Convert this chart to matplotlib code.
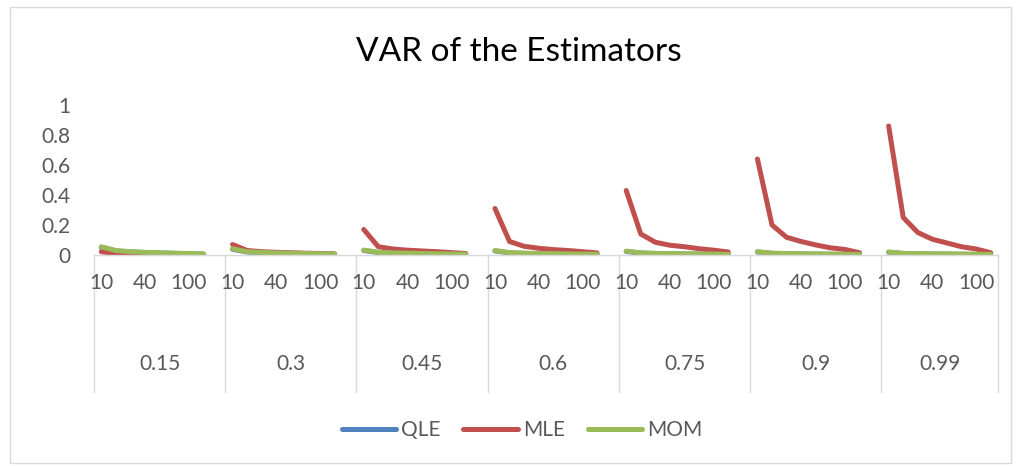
import matplotlib
matplotlib.use("Agg")
import matplotlib.pyplot as plt
import numpy as np
from matplotlib.patches import Rectangle

plt.rcParams['font.family'] = ['Lato', 'DejaVu Sans']

groups = ['0.15', '0.3', '0.45', '0.6', '0.75', '0.9', '0.99']
sample_sizes = ['10', '20', '30', '40', '50', '75', '100', '150']

qle = [
    [0.050, 0.027, 0.020, 0.016, 0.013, 0.011, 0.009, 0.006],
    [0.038, 0.020, 0.015, 0.013, 0.011, 0.009, 0.007, 0.005],
    [0.030, 0.016, 0.013, 0.011, 0.009, 0.007, 0.006, 0.004],
    [0.027, 0.014, 0.011, 0.009, 0.008, 0.006, 0.005, 0.004],
    [0.023, 0.013, 0.010, 0.008, 0.007, 0.006, 0.005, 0.003],
    [0.020, 0.011, 0.009, 0.007, 0.006, 0.005, 0.004, 0.003],
    [0.018, 0.010, 0.008, 0.007, 0.006, 0.005, 0.004, 0.003],
]
mle = [
    [0.022, 0.010, 0.008, 0.007, 0.006, 0.005, 0.004, 0.003],
    [0.070, 0.030, 0.022, 0.018, 0.015, 0.012, 0.010, 0.007],
    [0.170, 0.055, 0.040, 0.032, 0.027, 0.022, 0.016, 0.010],
    [0.310, 0.090, 0.058, 0.045, 0.036, 0.030, 0.022, 0.014],
    [0.430, 0.140, 0.085, 0.065, 0.055, 0.042, 0.032, 0.020],
    [0.640, 0.200, 0.118, 0.090, 0.067, 0.048, 0.037, 0.015],
    [0.860, 0.250, 0.150, 0.105, 0.080, 0.055, 0.040, 0.015],
]
mom = [
    [0.055, 0.030, 0.022, 0.018, 0.015, 0.012, 0.010, 0.007],
    [0.042, 0.022, 0.017, 0.014, 0.012, 0.010, 0.008, 0.006],
    [0.033, 0.018, 0.014, 0.012, 0.010, 0.008, 0.007, 0.005],
    [0.030, 0.016, 0.012, 0.010, 0.009, 0.007, 0.006, 0.005],
    [0.026, 0.014, 0.011, 0.009, 0.008, 0.007, 0.006, 0.004],
    [0.022, 0.012, 0.010, 0.008, 0.007, 0.006, 0.005, 0.004],
    [0.020, 0.011, 0.009, 0.008, 0.007, 0.006, 0.005, 0.004],
]

series = [('QLE', qle, '#4F81BD'), ('MLE', mle, '#C0504D'), ('MOM', mom, '#9BBB59')]

W, H = 1019, 466
fig = plt.figure(figsize=(W / 100, H / 100), dpi=100)
fig.patch.set_facecolor('white')

# chart border
fig.add_artist(Rectangle((10 / W, 1 - 463 / H), (1011 - 10) / W, (463 - 7) / H,
                         transform=fig.transFigure, fill=False, edgecolor='#D9D9D9', lw=1.0))

x0, x1, y0, y1 = 94, 998, 255, 105
ax = fig.add_axes([x0 / W, 1 - y0 / H, (x1 - x0) / W, (y0 - y1) / H])

slot = len(sample_sizes) + 1  # one blank category between groups
ncat = slot * len(groups) - 1

text_col = '#595959'
fs = 15
for name, data, col in series:
    xs, ys = [], []
    for g, vals in enumerate(data):
        for k, v in enumerate(vals):
            xs.append(g * slot + k)
            ys.append(v)
        xs.append(g * slot + len(vals))
        ys.append(np.nan)
    ax.plot(xs, ys, color=col, lw=3.6, solid_capstyle='round', solid_joinstyle='round', label=name)

ax.set_xlim(-0.5, ncat - 0.5)
ax.set_ylim(0, 1)
ax.set_yticks([0, 0.2, 0.4, 0.6, 0.8, 1.0])
ax.set_yticklabels(['0', '0.2', '0.4', '0.6', '0.8', '1'])
ax.tick_params(axis='y', length=0, labelsize=fs, labelcolor=text_col, pad=17)
ax.set_xticks([])
for s in ['top', 'right', 'left']:
    ax.spines[s].set_visible(False)
ax.spines['bottom'].set_color('#D9D9D9')
ax.spines['bottom'].set_linewidth(1.0)

trans = ax.get_xaxis_transform()
sep_bottom = -(392 - 255) / 150
bounds = [g * slot - 0.5 for g in range(len(groups))] + [ncat - 0.5]
for b in bounds:
    ax.plot([b, b], [0, sep_bottom], color='#D9D9D9', lw=1.0, transform=trans, clip_on=False)

lvl1_y = -(283 - 255) / 150
lvl2_y = -(364 - 255) / 150
for g, gname in enumerate(groups):
    for k, lab in enumerate(sample_sizes):
        if k % 3 == 0:
            ax.text(g * slot + k, lvl1_y, lab, transform=trans, ha='center', va='center',
                    fontsize=fs, color=text_col)
    start = g * slot - 0.5
    end = min(g * slot + slot - 0.5, ncat - 0.5)
    ax.text((start + end) / 2, lvl2_y, gname, transform=trans, ha='center', va='center',
            fontsize=fs, color=text_col)

fig.text(519 / W, 1 - 52 / H, 'VAR of the Estimators', ha='center', va='center',
         fontsize=24, color='#000000')

handles, labels = ax.get_legend_handles_labels()
fig.legend(handles, labels, loc='center', bbox_to_anchor=(522 / W, 1 - 430 / H), ncol=3,
           frameon=False, fontsize=fs, labelcolor=text_col, handlelength=2.6,
           handletextpad=0.25, columnspacing=1.1)

fig.savefig('out.png', dpi=100)
